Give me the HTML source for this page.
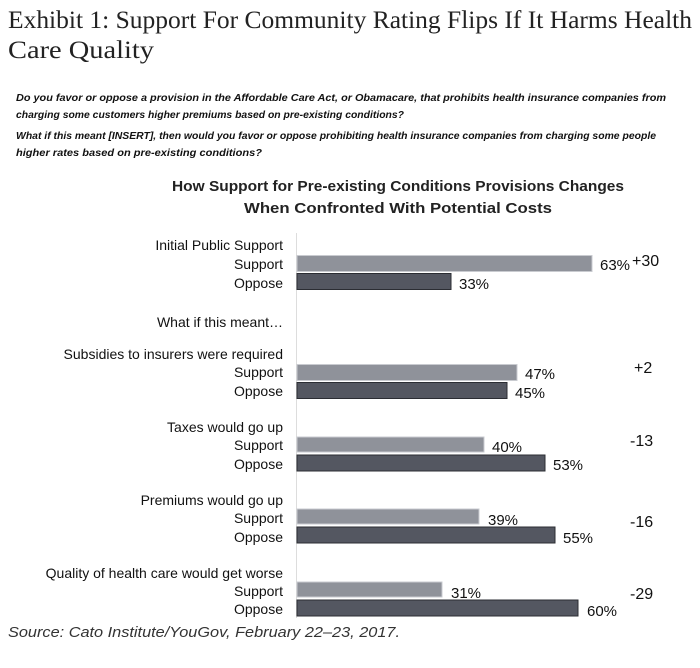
<!DOCTYPE html>
<html><head><style>body{margin:0;background:#fff}svg{display:block}</style></head><body>
<svg width="700" height="668" xmlns="http://www.w3.org/2000/svg">
<g font-family="Liberation Serif, serif" fill="#222" font-size="25">
<text x="8" y="28" textLength="684" lengthAdjust="spacingAndGlyphs">Exhibit 1: Support For Community Rating Flips If It Harms Health</text>
<text x="8" y="58" textLength="146" lengthAdjust="spacingAndGlyphs">Care Quality</text>
</g>
<g font-family="Liberation Sans, sans-serif" font-style="italic" font-weight="bold" fill="#111" font-size="10.5">
<text x="16" y="101" textLength="650" lengthAdjust="spacingAndGlyphs">Do you favor or oppose a provision in the Affordable Care Act, or Obamacare, that prohibits health insurance companies from</text>
<text x="16" y="118" textLength="388" lengthAdjust="spacingAndGlyphs">charging some customers higher premiums based on pre-existing conditions?</text>
<text x="16" y="139" textLength="640" lengthAdjust="spacingAndGlyphs">What if this meant [INSERT], then would you favor or oppose prohibiting health insurance companies from charging some people</text>
<text x="16" y="156" textLength="246" lengthAdjust="spacingAndGlyphs">higher rates based on pre-existing conditions?</text>
</g>
<g font-family="Liberation Sans, sans-serif" font-weight="bold" fill="#222" font-size="14.5" text-anchor="middle">
<text x="398" y="191" textLength="452" lengthAdjust="spacingAndGlyphs">How Support for Pre-existing Conditions Provisions Changes</text>
<text x="398" y="213" textLength="308" lengthAdjust="spacingAndGlyphs">When Confronted With Potential Costs</text>
</g>
<line x1="296.5" y1="233" x2="296.5" y2="618" stroke="#ddd" stroke-width="1"/>
<g font-family="Liberation Sans, sans-serif" fill="#111" font-size="14" text-anchor="end">
<text x="283" y="250">Initial Public Support</text>
<text x="283" y="269">Support</text>
<text x="283" y="288">Oppose</text>
<text x="283" y="327">What if this meant…</text>
<text x="283" y="359">Subsidies to insurers were required</text>
<text x="283" y="377">Support</text>
<text x="283" y="396">Oppose</text>
<text x="283" y="432">Taxes would go up</text>
<text x="283" y="450">Support</text>
<text x="283" y="469">Oppose</text>
<text x="283" y="505">Premiums would go up</text>
<text x="283" y="523">Support</text>
<text x="283" y="542">Oppose</text>
<text x="283" y="578">Quality of health care would get worse</text>
<text x="283" y="596">Support</text>
<text x="283" y="614">Oppose</text>
</g>
<g stroke-width="1">
<rect x="297" y="255.5" width="295" height="16" fill="#8f929a" stroke="#c9cbd0"/>
<rect x="297" y="273.5" width="154" height="16" fill="#545761" stroke="#2b2d33"/>
<rect x="297" y="364.5" width="220" height="16" fill="#8f929a" stroke="#c9cbd0"/>
<rect x="297" y="382.5" width="210" height="16" fill="#545761" stroke="#2b2d33"/>
<rect x="297" y="437" width="187" height="15" fill="#8f929a" stroke="#c9cbd0"/>
<rect x="297" y="455" width="248" height="16" fill="#545761" stroke="#2b2d33"/>
<rect x="297" y="509" width="182" height="15" fill="#8f929a" stroke="#c9cbd0"/>
<rect x="297" y="527" width="258" height="16" fill="#545761" stroke="#2b2d33"/>
<rect x="297" y="582" width="145" height="15" fill="#8f929a" stroke="#c9cbd0"/>
<rect x="297" y="600" width="281" height="16" fill="#545761" stroke="#2b2d33"/>
</g>
<g font-family="Liberation Sans, sans-serif" fill="#111" font-size="15">
<text x="600" y="270">63%</text>
<text x="459" y="289">33%</text>
<text x="525" y="379">47%</text>
<text x="515" y="398">45%</text>
<text x="492" y="452">40%</text>
<text x="553" y="470">53%</text>
<text x="488" y="525">39%</text>
<text x="563" y="543">55%</text>
<text x="451" y="598">31%</text>
<text x="587" y="616">60%</text>
</g>
<g font-family="Liberation Sans, sans-serif" fill="#111" font-size="16">
<text x="632" y="266">+30</text>
<text x="634" y="373">+2</text>
<text x="630" y="446">-13</text>
<text x="630" y="527">-16</text>
<text x="630" y="599">-29</text>
</g>
<text x="8" y="637" font-family="Liberation Sans, sans-serif" font-style="italic" font-size="15" fill="#333" textLength="392" lengthAdjust="spacingAndGlyphs">Source: Cato Institute/YouGov, February 22–23, 2017.</text>
</svg>
</body></html>
